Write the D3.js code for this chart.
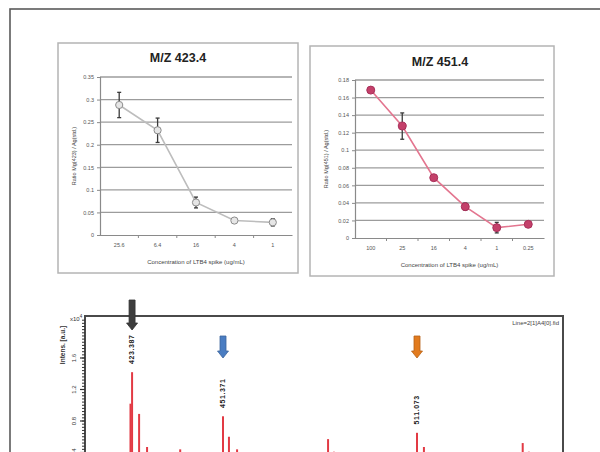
<!DOCTYPE html>
<html>
<head>
<meta charset="utf-8">
<script src="https://cdn.jsdelivr.net/npm/d3@7/dist/d3.min.js"></script>
<style>
  body { margin: 0; background: #fff; }
  svg { display: block; font-family: "Liberation Sans", Arial, sans-serif; }
</style>
</head>
<body>
<svg id="fig" width="600" height="452"></svg>
<script>
// ---- Calibration curve, m/z 423.4 ----
const concA  = ["25.6", "6.4", "16", "4", "1"];
const ratioA = [0.288, 0.232, 0.072, 0.032, 0.028];
const errA   = [0.028, 0.027, 0.012, 0.003, 0.008];
const ticksA = [0, 0.05, 0.1, 0.15, 0.2, 0.25, 0.3, 0.35];

// ---- Calibration curve, m/z 451.4 ----
const concB  = ["100", "25", "16", "4", "1", "0.25"];
const ratioB = [0.1685, 0.1275, 0.0687, 0.0357, 0.0118, 0.0156];
const errB   = [0.002, 0.015, 0.001, 0.004, 0.006, 0.002];
const ticksB = [0, 0.02, 0.04, 0.06, 0.08, 0.1, 0.12, 0.14, 0.16, 0.18];

// ---- MALDI spectrum (intensity x10^4) ----
const peakMz  = [412.5, 422.9, 423.387, 425.55, 428.0, 438.2, 451.371, 453.2, 455.7, 468.0,
                 483.7, 485.5, 511.073, 513.2, 543.6, 545.5];
const peakInt = [0.38, 1.02, 1.42, 0.89, 0.47, 0.44, 0.86, 0.60, 0.44, 0.39,
                 0.57, 0.41, 0.65, 0.47, 0.52, 0.41];
const markedMz     = [423.387, 451.371, 511.073];
const markedColors = ["#3d3d3d", "#4a7dc2", "#e27b1e"];
const specTicks    = [0.4, 0.8, 1.2, 1.6];

const svg = d3.select("#fig");
const fmt = v => String(+v.toFixed(2));

// outer figure frame (continues past the right edge)
svg.append("rect").attr("x", 10).attr("y", 9).attr("width", 620).attr("height", 470)
  .attr("fill", "none").attr("stroke", "#5a5a5a").attr("stroke-width", 1.6);

function curvePanel(cfg) {
  const g = svg.append("g");
  g.append("rect").attr("x", cfg.box[0]).attr("y", cfg.box[1])
    .attr("width", cfg.box[2] - cfg.box[0]).attr("height", cfg.box[3] - cfg.box[1])
    .attr("fill", "#fff").attr("stroke", "#b4b4b4").attr("stroke-width", 1.5);

  const x = d3.scaleBand().domain(cfg.cats).range([cfg.x0, cfg.x1]);
  const y = d3.scaleLinear().domain([0, cfg.ticks[cfg.ticks.length - 1]]).range([cfg.y0, cfg.y1]);

  // horizontal gridlines
  g.selectAll("line.grid").data(cfg.ticks.slice(1)).join("line")
    .attr("x1", cfg.x0).attr("x2", cfg.x1)
    .attr("y1", d => y(d)).attr("y2", d => y(d))
    .attr("stroke", "#9c9c9c").attr("stroke-width", 1.3);

  // y axis
  const ya = g.append("g").attr("transform", `translate(${cfg.x0},0)`)
    .call(d3.axisLeft(y).tickValues(cfg.ticks).tickFormat(fmt).tickSize(3).tickPadding(3));
  ya.select(".domain").attr("stroke", "#8a8a8a").attr("stroke-width", 1.2);
  ya.selectAll(".tick line").attr("stroke", "#8a8a8a");
  ya.selectAll("text").attr("font-size", 5.5).attr("fill", "#555").attr("font-family", "Liberation Sans, Arial, sans-serif");

  // x axis
  const xa = g.append("g").attr("transform", `translate(0,${cfg.y0})`)
    .call(d3.axisBottom(x).tickSize(0).tickPadding(8));
  xa.select(".domain").attr("stroke", "#8a8a8a").attr("stroke-width", 1.2);
  xa.selectAll("text").attr("font-size", 5.5).attr("fill", "#555").attr("font-family", "Liberation Sans, Arial, sans-serif");
  // category separators
  g.selectAll("line.sep").data(cfg.cats.slice(1)).join("line")
    .attr("x1", d => x(d)).attr("x2", d => x(d))
    .attr("y1", cfg.y0).attr("y2", cfg.y0 + 3)
    .attr("stroke", "#8a8a8a");

  const cx = i => x(cfg.cats[i]) + x.bandwidth() / 2;

  // connecting line
  g.append("path").datum(cfg.vals)
    .attr("d", d3.line().x((d, i) => cx(i)).y(d => y(d)))
    .attr("fill", "none").attr("stroke", cfg.lineColor).attr("stroke-width", 1.6);

  // error bars
  cfg.vals.forEach((v, i) => {
    const e = cfg.errs[i];
    g.append("line").attr("x1", cx(i)).attr("x2", cx(i))
      .attr("y1", y(v + e)).attr("y2", y(v - e)).attr("stroke", "#3a3a3a").attr("stroke-width", 1.3);
    [v + e, v - e].forEach(b => g.append("line")
      .attr("x1", cx(i) - 2).attr("x2", cx(i) + 2).attr("y1", y(b)).attr("y2", y(b))
      .attr("stroke", "#3a3a3a").attr("stroke-width", 1.3));
  });

  // markers
  g.selectAll("circle").data(cfg.vals).join("circle")
    .attr("cx", (d, i) => cx(i)).attr("cy", d => y(d)).attr("r", cfg.r)
    .attr("fill", cfg.markFill).attr("stroke", cfg.markStroke).attr("stroke-width", 1);

  // titles
  g.append("text").attr("x", cfg.titleX).attr("y", cfg.titleY).attr("text-anchor", "middle")
    .attr("font-size", 12.5).attr("font-weight", "bold").attr("fill", "#222").text(cfg.title);
  g.append("text").attr("x", (cfg.x0 + cfg.x1) / 2).attr("y", cfg.y0 + 29).attr("text-anchor", "middle")
    .attr("font-size", 6).attr("fill", "#444").text("Concentration of LTB4 spike (ug/mL)");
  g.append("text")
    .attr("transform", `translate(${cfg.yTitleX},${(cfg.y0 + cfg.y1) / 2}) rotate(-90)`)
    .attr("text-anchor", "middle").attr("font-size", 5.5).attr("fill", "#444").text(cfg.yTitle);
}

curvePanel({
  box: [58, 43, 298, 273], x0: 100, x1: 292, y0: 235, y1: 77,
  cats: concA, vals: ratioA, errs: errA, ticks: ticksA,
  lineColor: "#bdbdbd", markFill: "#e6e6e6", markStroke: "#8c8c8c", r: 3.6,
  title: "M/Z 423.4", titleX: 178, titleY: 62, yTitleX: 76,
  yTitle: "Ratio Mg(423) / Ag(std.)"
});

curvePanel({
  box: [310, 46, 554, 276], x0: 355, x1: 544, y0: 238, y1: 80,
  cats: concB, vals: ratioB, errs: errB, ticks: ticksB,
  lineColor: "#e3758f", markFill: "#c4406a", markStroke: "#a8305a", r: 4,
  title: "M/Z 451.4", titleX: 440, titleY: 66, yTitleX: 328,
  yTitle: "Ratio Mg(451) / Ag(std.)"
});

// ---- spectrum ----
const sp = svg.append("g");
const sx = d3.scaleLinear().domain([408.9, 556.0]).range([85, 563]);
const sy = d3.scaleLinear().domain([0, 1.6]).range([484, 358]);
const sTop = 316;

// peaks
sp.selectAll("line.peak").data(peakMz).join("line")
  .attr("x1", d => sx(d)).attr("x2", d => sx(d))
  .attr("y1", sy(0)).attr("y2", (d, i) => sy(peakInt[i]))
  .attr("stroke", "#e23a44").attr("stroke-width", 2);

// frame
sp.append("path")
  .attr("d", `M${sx.range()[0]},${sy(0)} V${sTop} H${sx.range()[1]} V${sy(0)}`)
  .attr("fill", "none").attr("stroke", "#4a4a4a").attr("stroke-width", 2);

// y axis ticks
const minor = d3.range(0.04, 2.12, 0.04);
sp.selectAll("line.minor").data(minor).join("line")
  .attr("x1", 85).attr("x2", 82).attr("y1", d => sy(d)).attr("y2", d => sy(d))
  .attr("stroke", "#333").attr("stroke-width", 1);
sp.selectAll("line.major").data(specTicks).join("line")
  .attr("x1", 85).attr("x2", 80).attr("y1", d => sy(d)).attr("y2", d => sy(d))
  .attr("stroke", "#333").attr("stroke-width", 1.2);
sp.selectAll("text.ytick").data(specTicks).join("text")
  .attr("transform", d => `translate(${76},${sy(d)}) rotate(-90)`)
  .attr("text-anchor", "middle").attr("font-size", 6).attr("fill", "#333")
  .text(d => d.toFixed(1));

sp.append("text").attr("transform", "translate(65,345) rotate(-90)")
  .attr("text-anchor", "middle").attr("font-size", 6.5).attr("font-weight", "bold").attr("fill", "#333")
  .text("Intens. [a.u.]");
sp.append("text").attr("x", 70).attr("y", 321).attr("font-size", 6).attr("fill", "#333")
  .text("x10").append("tspan").attr("dy", -3).attr("font-size", 4.5).text("4");

sp.append("text").attr("x", 559).attr("y", 325).attr("text-anchor", "end")
  .attr("font-size", 6).attr("fill", "#444").text("Line=2[1]A4[0].fid");

// labelled peaks: value text and arrow
const arrowTop = [300, 336, 336];
const arrowTip = [330, 358, 358];
markedMz.forEach((m, i) => {
  const k = peakMz.indexOf(m);
  const px = sx(m);
  const top = sy(peakInt[k]);
  sp.append("text")
    .attr("transform", `translate(${px + 2.2},${top - 23}) rotate(-90)`)
    .attr("text-anchor", "middle").attr("font-size", 7).attr("font-weight", "bold")
    .attr("letter-spacing", 0.6).attr("fill", "#222").text(m.toFixed(3));
  const a = arrowTop[i], t = arrowTip[i], hw = 5.5, sw = 3, hh = 7;
  sp.append("path")
    .attr("d", `M${px - sw},${a} H${px + sw} V${t - hh} H${px + hw} L${px},${t} L${px - hw},${t - hh} H${px - sw} Z`)
    .attr("fill", markedColors[i]).attr("stroke", d3.color(markedColors[i]).darker(0.6)).attr("stroke-width", 0.8);
});
</script>
</body>
</html>
